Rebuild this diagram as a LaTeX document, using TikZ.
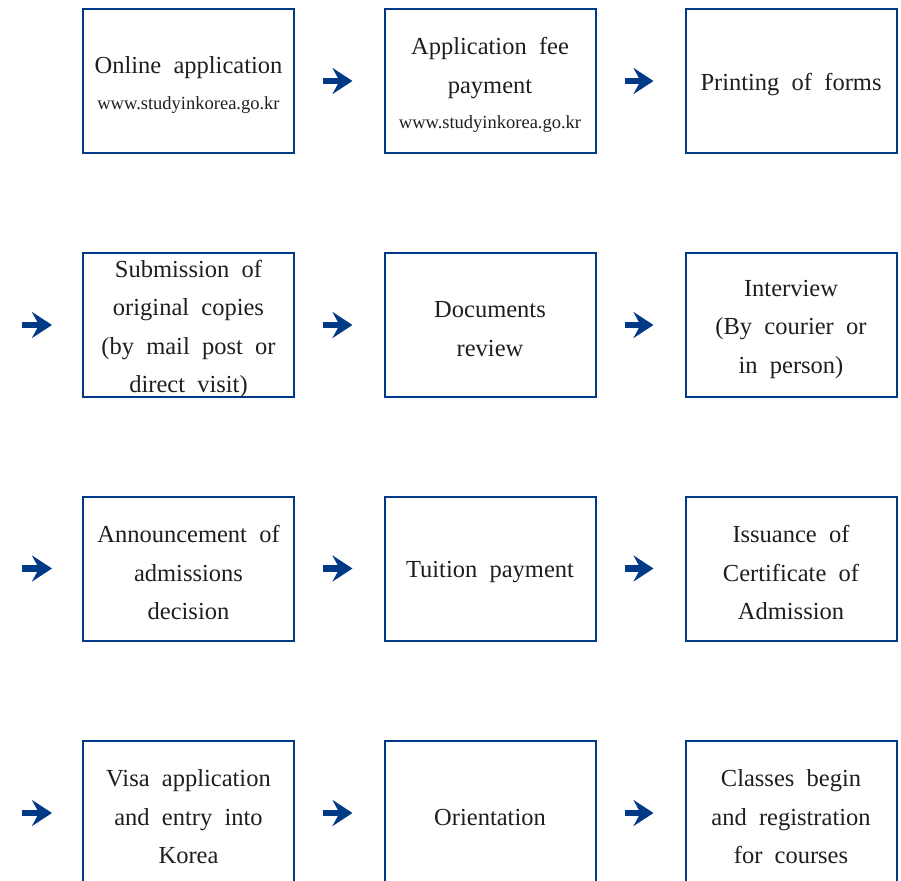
\documentclass[tikz,border=0pt]{standalone}
\usepackage{fontspec}
\setmainfont{Liberation Serif}[WordSpace=2]
\usetikzlibrary{arrows.meta}
\definecolor{navy}{RGB}{0,58,135}
\definecolor{ink}{RGB}{30,30,30}
\newcommand\urlfont{\fontsize{18.5}{22}\selectfont}
\begin{document}
\begin{tikzpicture}[x=1pt,y=1pt,
  box/.style={draw=navy, line width=2pt, minimum width=211pt, minimum height=144pt,
    inner sep=0pt},
  txt/.style={align=center, text=ink, inner sep=0pt, yshift=-4pt,
    font=\fontsize{24.5}{38.5}\selectfont},
  flow/.style={navy, line width=6.5pt, -{Stealth[length=20pt,width=26pt,inset=7pt]}}]
\useasboundingbox (0,0) rectangle (901,-880);
\clip (0,0) rectangle (901,-880);
% row 1
\node[box, label={[txt]center:{Online application\\[-2.5pt]\urlfont www.studyinkorea.go.kr}}] (a1) at (188.5,-81) {};
\node[box, label={[txt]center:{Application fee\\payment\\[-3pt]\urlfont www.studyinkorea.go.kr}}] (a2) at (490,-81) {};
\node[box, label={[txt]center:{Printing of forms}}] (a3) at (791,-81) {};
% row 2
\node[box, label={[txt]center:{Submission of\\original copies\\(by mail post or\\direct visit)}}] (b1) at (188.5,-325) {};
\node[box, label={[txt]center:{Documents\\review}}] (b2) at (490,-325) {};
\node[box, label={[txt]center:{Interview\\(By courier or\\in person)}}] (b3) at (791,-325) {};
% row 3
\node[box, label={[txt]center:{Announcement of\\admissions\\decision}}] (c1) at (188.5,-568.5) {};
\node[box, label={[txt]center:{Tuition payment}}] (c2) at (490,-568.5) {};
\node[box, label={[txt]center:{Issuance of\\Certificate of\\Admission}}] (c3) at (791,-568.5) {};
% row 4
\node[box, label={[txt]center:{Visa application\\and entry into\\Korea}}] (d1) at (188.5,-813) {};
\node[box, label={[txt]center:{Orientation}}] (d2) at (490,-813) {};
\node[box, label={[txt]center:{Classes begin\\and registration\\for courses}}] (d3) at (791,-813) {};
% left start points
\coordinate (sb) at (22,-325);
\coordinate (sc) at (22,-568.5);
\coordinate (sd) at (22,-813);
% arrows
\draw[flow] ([xshift=28pt]a1.east) -- ([xshift=-31pt]a2.west);
\draw[flow] ([xshift=28pt]a2.east) -- ([xshift=-31pt]a3.west);
\draw[flow] (sb) -- ([xshift=-30pt]b1.west);
\draw[flow] ([xshift=28pt]b1.east) -- ([xshift=-31pt]b2.west);
\draw[flow] ([xshift=28pt]b2.east) -- ([xshift=-31pt]b3.west);
\draw[flow] (sc) -- ([xshift=-30pt]c1.west);
\draw[flow] ([xshift=28pt]c1.east) -- ([xshift=-31pt]c2.west);
\draw[flow] ([xshift=28pt]c2.east) -- ([xshift=-31pt]c3.west);
\draw[flow] (sd) -- ([xshift=-30pt]d1.west);
\draw[flow] ([xshift=28pt]d1.east) -- ([xshift=-31pt]d2.west);
\draw[flow] ([xshift=28pt]d2.east) -- ([xshift=-31pt]d3.west);
\end{tikzpicture}
\end{document}
